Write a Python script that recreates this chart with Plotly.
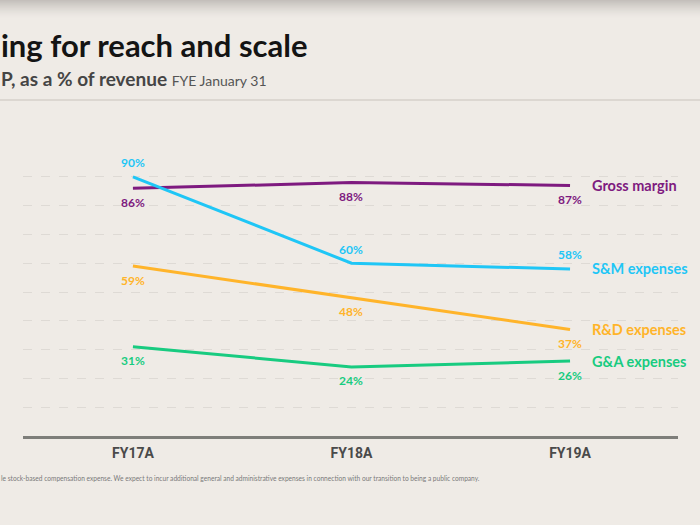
import plotly.graph_objects as go

categories = ["FY17A", "FY18A", "FY19A"]
series_names = ["Gross margin", "S&M expenses", "R&D expenses", "G&A expenses"]
gross_margin = [86, 88, 87]
sm_expenses = [90, 60, 58]
rd_expenses = [59, 48, 37]
ga_expenses = [31, 24, 26]
# label side per point: +1 above, -1 below
gm_side = [-1, -1, -1]
sm_side = [1, 1, 1]
rd_side = [-1, -1, -1]
ga_side = [-1, -1, -1]

colors = ["#7E1A7F", "#1FC6F6", "#FFB42A", "#18CB80"]
values = [gross_margin, sm_expenses, rd_expenses, ga_expenses]
sides = [gm_side, sm_side, rd_side, ga_side]

BG = "#EFEBE6"
W, H = 700, 525
ML, MR, MT, MB = 23, 22, 148, 89
PW = W - ML - MR
PH = H - MT - MB

def px_x(p):
    return (p - ML) / PW

def px_y(p):
    return (H - MB - p) / PH

fig = go.Figure()

annotations = []
for name, vals, col, sd in zip(series_names, values, colors, sides):
    fig.add_trace(go.Scatter(
        x=categories, y=vals, mode="lines", name=name,
        line=dict(color=col, width=3), hoverinfo="skip", showlegend=False,
    ))
    for c, v, s in zip(categories, vals, sd):
        annotations.append(dict(
            x=c, y=v, xref="x", yref="y", text=f"{v}%", showarrow=False,
            yshift=14 * s, xanchor="center", yanchor="middle",
            font=dict(family="Lato", size=12, color=col, weight="bold"),
        ))
    annotations.append(dict(
        x=categories[-1], y=vals[-1], xref="x", yref="y", text=name,
        showarrow=False, xanchor="left", yanchor="middle", xshift=20,
        font=dict(family="Lato", size=14.5, color=col, weight="bold"),
    ))

# Title and subtitle (cropped slide)
annotations.append(dict(
    x=px_x(-1), y=px_y(45), xref="paper", yref="paper",
    text="ing for reach and scale", showarrow=False,
    xanchor="left", yanchor="middle",
    font=dict(family="Lato", size=31, color="#141414", weight="bold"),
))
annotations.append(dict(
    x=px_x(-1), y=px_y(78), xref="paper", yref="paper",
    text="P, as a % of revenue <span style='font-size:14px;font-weight:400;color:#555'>FYE January 31</span>",
    showarrow=False, xanchor="left", yanchor="middle",
    font=dict(family="Lato", size=19, color="#454545", weight="bold"),
))
annotations.append(dict(
    x=px_x(-1), y=px_y(478), xref="paper", yref="paper",
    text="le stock-based compensation expense. We expect to incur additional general and administrative expenses in connection with our transition to being a public company.",
    showarrow=False, xanchor="left", yanchor="middle",
    font=dict(family="Lato", size=6.6, color="#7A7A7A"),
))

shapes = []
# top shadow gradient
for i in range(18):
    shapes.append(dict(
        type="rect", xref="paper", yref="paper",
        x0=px_x(0), x1=px_x(W), y0=px_y(i + 1), y1=px_y(i),
        fillcolor="#A6A29E", opacity=0.6 * (1 - i / 18) ** 1.5,
        line=dict(width=0), layer="below",
    ))
# separator under subtitle
shapes.append(dict(
    type="line", xref="paper", yref="paper",
    x0=px_x(0), x1=px_x(W), y0=px_y(100), y1=px_y(100),
    line=dict(color="#DCD7D1", width=2), layer="below",
))

fig.update_layout(
    width=W, height=H,
    margin=dict(l=ML, r=MR, t=MT, b=MB),
    paper_bgcolor=BG, plot_bgcolor=BG,
    annotations=annotations, shapes=shapes,
    xaxis=dict(
        type="category", range=[-0.503, 2.494],
        showgrid=False, zeroline=False,
        showline=True, linecolor="#7E7E7A", linewidth=3,
        ticks="", tickfont=dict(family="Roboto", size=14, color="#4A4A4A", weight="bold"),
        ticklabelstandoff=2,
    ),
    yaxis=dict(
        range=[0, 100], dtick=10, showticklabels=False,
        showgrid=True, gridcolor="#DEDAD5", gridwidth=1, griddash="dash",
        zeroline=False, showline=False,
    ),
)

fig.write_html(
    "out.html",
    config={"displayModeBar": False},
    post_script="document.body.style.margin='0';document.body.style.background='%s';" % BG,
)
